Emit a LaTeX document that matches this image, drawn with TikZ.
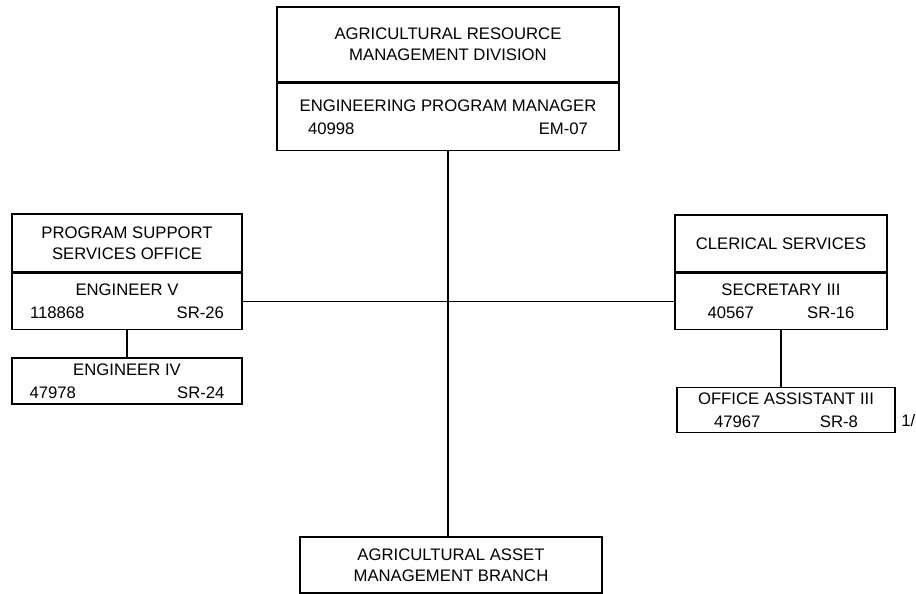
\documentclass[tikz,border=0pt]{standalone}
\usepackage{fontspec}
\setmainfont{Liberation Sans}
\usetikzlibrary{positioning}

\newcommand{\posline}[4]{#1\\[1pt]\makebox[#4]{#2\hfill#3}}

\begin{document}
\begin{tikzpicture}[x=0.02cm,y=-0.02cm,
    unit/.style={draw,line width=0.9pt,align=center,inner sep=0pt,
      font=\fontsize{9.5}{12}\selectfont},
    line/.style={line width=0.9pt}]
  \useasboundingbox (0,0) rectangle (916,594);
  % division
  \node(armd)[unit,minimum width=6.84cm,minimum height=1.5cm] at (448,44.5)
    {AGRICULTURAL RESOURCE\\MANAGEMENT DIVISION};
  \node(epm)[unit,minimum width=6.84cm,minimum height=1.34cm,below=0pt of armd]
    {\posline{ENGINEERING PROGRAM MANAGER}{40998}{EM-07}{5.6cm}};
  % program support
  \node(psso)[unit,minimum width=4.6cm,minimum height=1.16cm] at (127,243)
    {PROGRAM SUPPORT\\SERVICES OFFICE};
  \node(engv)[unit,minimum width=4.6cm,minimum height=1.12cm,below=0pt of psso]
    {\posline{ENGINEER V}{118868}{SR-26}{3.88cm}};
  \node(engiv)[unit,minimum width=4.6cm,minimum height=0.92cm] at (127,381)
    {\posline{ENGINEER IV}{47978}{SR-24}{3.9cm}};
  % clerical
  \node(cs)[unit,minimum width=4.24cm,minimum height=1.14cm] at (781,243.5)
    {CLERICAL SERVICES};
  \node(sec)[unit,minimum width=4.24cm,minimum height=1.12cm,below=0pt of cs]
    {\posline{SECRETARY III}{40567}{SR-16}{2.94cm}};
  \node(oa)[unit,minimum width=4.36cm,minimum height=0.9cm] at (786,410)
    {\posline{OFFICE ASSISTANT III}{47967}{SR-8}{2.88cm}};
  \node(note)[anchor=west,inner sep=0pt,font=\fontsize{9.5}{12}\selectfont]
    at (901,421) {1/};
  % branch
  \node(aamb)[unit,minimum width=6.04cm,minimum height=1.12cm] at (451,565)
    {AGRICULTURAL ASSET\\MANAGEMENT BRANCH};

  \draw[line] (epm.south) -- (epm.south |- aamb.north);
  \draw[line] (engv.east) -- (engv.east -| sec.west);
  \draw[line] (engv.south) -- (engiv.north);
  \draw[line] (sec.south) -- (sec.south |- oa.north);
\end{tikzpicture}
\end{document}
